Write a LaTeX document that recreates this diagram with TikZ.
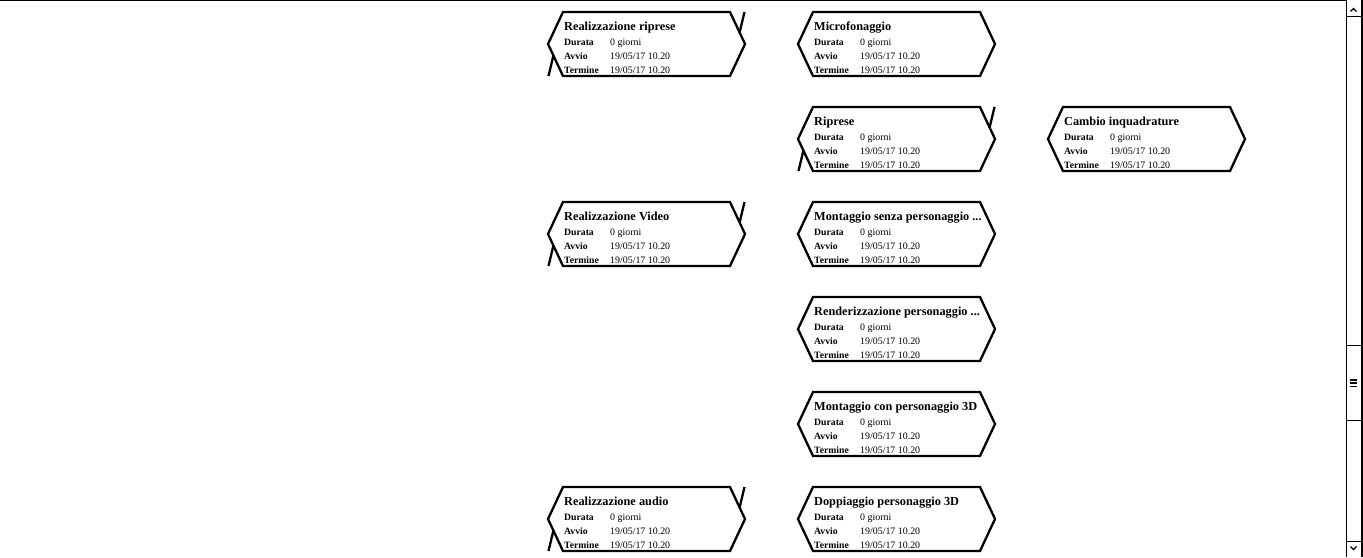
\documentclass[tikz,border=0pt]{standalone}
\usepackage{fontspec}
\setmainfont{Liberation Serif}
\usetikzlibrary{calc}

% #1 nome, #2 x, #3 y, #4 titolo, #5 riepilogo (1) o no (0)
\newcommand{\compito}[5]{%
  \begin{scope}[shift={(#2,#3)}]
    \draw[bordo] (15,0) -- (182,0) -- (197,32) -- (182,64) -- (15,64) -- (0,32) -- cycle;
    \ifnum#5=1
      \draw[bordo] (196.5,0) -- (191.6,20.5);
      \draw[bordo] (0.5,64) -- (5.4,43.5);
    \fi
    \node[titolo] (#1-tit) at (16,18.5) {#4};
    \node[etich] (#1-dur) at (16,33) {Durata};
    \node[valore] (#1-vdur) at (62,33) {0 giorni};
    \node[etich] (#1-avv) at (16,47) {Avvio};
    \node[valore] (#1-vavv) at (62,47) {19/05/17 10.20};
    \node[etich] (#1-ter) at (16,61) {Termine};
    \node[valore] (#1-vter) at (62,61) {19/05/17 10.20};
  \end{scope}}

\begin{document}
\begin{tikzpicture}[x=1pt, y=-1pt,
    bordo/.style={line width=2.3pt, black},
    titolo/.style={anchor=base west, inner sep=0pt, font=\fontsize{12.3}{14}\selectfont\bfseries},
    etich/.style={anchor=base west, inner sep=0pt, font=\fontsize{9.7}{11}\selectfont\bfseries},
    valore/.style={anchor=base west, inner sep=0pt, font=\fontsize{9.9}{11}\selectfont},
    barra/.style={line width=1pt, black}]
    \useasboundingbox (0,0) rectangle (1363,557);

    %% prima colonna
    \compito{rrip}{548}{12}{Realizzazione riprese}{1}
    \compito{rvid}{548}{202}{Realizzazione Video}{1}
    \compito{raud}{548}{487}{Realizzazione audio}{1}

    %% seconda colonna
    \compito{micr}{798}{12}{Microfonaggio}{0}
    \compito{ripr}{798}{107}{Riprese}{1}
    \compito{msen}{798}{202}{Montaggio senza personaggio ...}{0}
    \compito{rend}{798}{297}{Renderizzazione personaggio ...}{0}
    \compito{mcon}{798}{392}{Montaggio con personaggio 3D}{0}
    \compito{dopp}{798}{487}{Doppiaggio personaggio 3D}{0}

    %% terza colonna
    \compito{camb}{1048}{107}{Cambio inquadrature}{0}

    %% cornice e barra di scorrimento
    \draw[barra] (0,0.5) -- (1346.5,0.5);
    \draw[barra] (1346.5,0) -- (1346.5,557);
    \draw[line width=2.5pt] (1361.75,0) -- (1361.75,557);
    \foreach \yy in {16, 345, 420, 541}
      \draw[barra] (1346.5,\yy) -- (1361,\yy);
    \draw[line width=1.3pt] (1350.5,11.5) -- (1353.5,8.5) -- (1356.5,11.5);
    \draw[line width=1.3pt] (1350.5,546.5) -- (1353.5,549.5) -- (1356.5,546.5);
    \foreach \yy in {379.8, 383.2, 386.5}
      \draw[line width=1.6pt] (1350,\yy) -- (1356.8,\yy);
\end{tikzpicture}
\end{document}
